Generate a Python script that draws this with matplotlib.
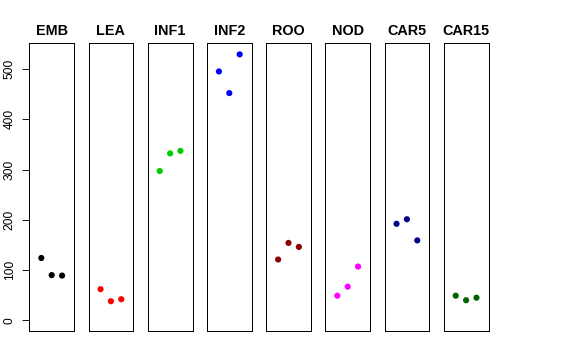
import matplotlib
matplotlib.use("Agg")
import matplotlib.pyplot as plt

plt.rcParams['font.family'] = ['Liberation Sans', 'DejaVu Sans']

tissues = ["EMB", "LEA", "INF1", "INF2", "ROO", "NOD", "CAR5", "CAR15"]
colors = ["black", "red", "#00CD00", "blue", "#8B0000", "magenta", "#00008B", "#006400"]
reps = [1, 2, 3]
values = [
    [124, 90, 89],
    [62, 38, 42],
    [297, 332, 337],
    [495, 452, 529],
    [121, 154, 146],
    [49, 67, 107],
    [192, 201, 159],
    [49, 40, 45],
]

W, H = 576, 360
fig = plt.figure(figsize=(W / 72, H / 72), dpi=72)

left0, step, pw = 29.3, 59.2, 44.8
top, bottom = 43.2, 331.0

for i, (name, col, vals) in enumerate(zip(tissues, colors, values)):
    x0 = left0 + i * step
    ax = fig.add_axes([x0 / W, 1 - bottom / H, pw / W, (bottom - top) / H])
    ax.scatter(reps, vals, s=38, color=col, edgecolors='none', zorder=3)
    ax.set_xlim(-0.16, 4.16)
    ax.set_ylim(-21.2, 551.2)
    ax.set_xticks([])
    for sp in ax.spines.values():
        sp.set_linewidth(1.0)
        sp.set_color("black")
    ax.set_title(name, fontsize=14.4, fontweight='bold', pad=8.5)
    if i == 0:
        ax.set_yticks([0, 100, 200, 300, 400, 500])
        ax.tick_params(axis='y', length=7.5, width=0.9, labelsize=12, pad=6)
        for lab in ax.get_yticklabels():
            lab.set_rotation(90)
            lab.set_verticalalignment('center')
    else:
        ax.set_yticks([])

fig.savefig("out.png", dpi=72)
